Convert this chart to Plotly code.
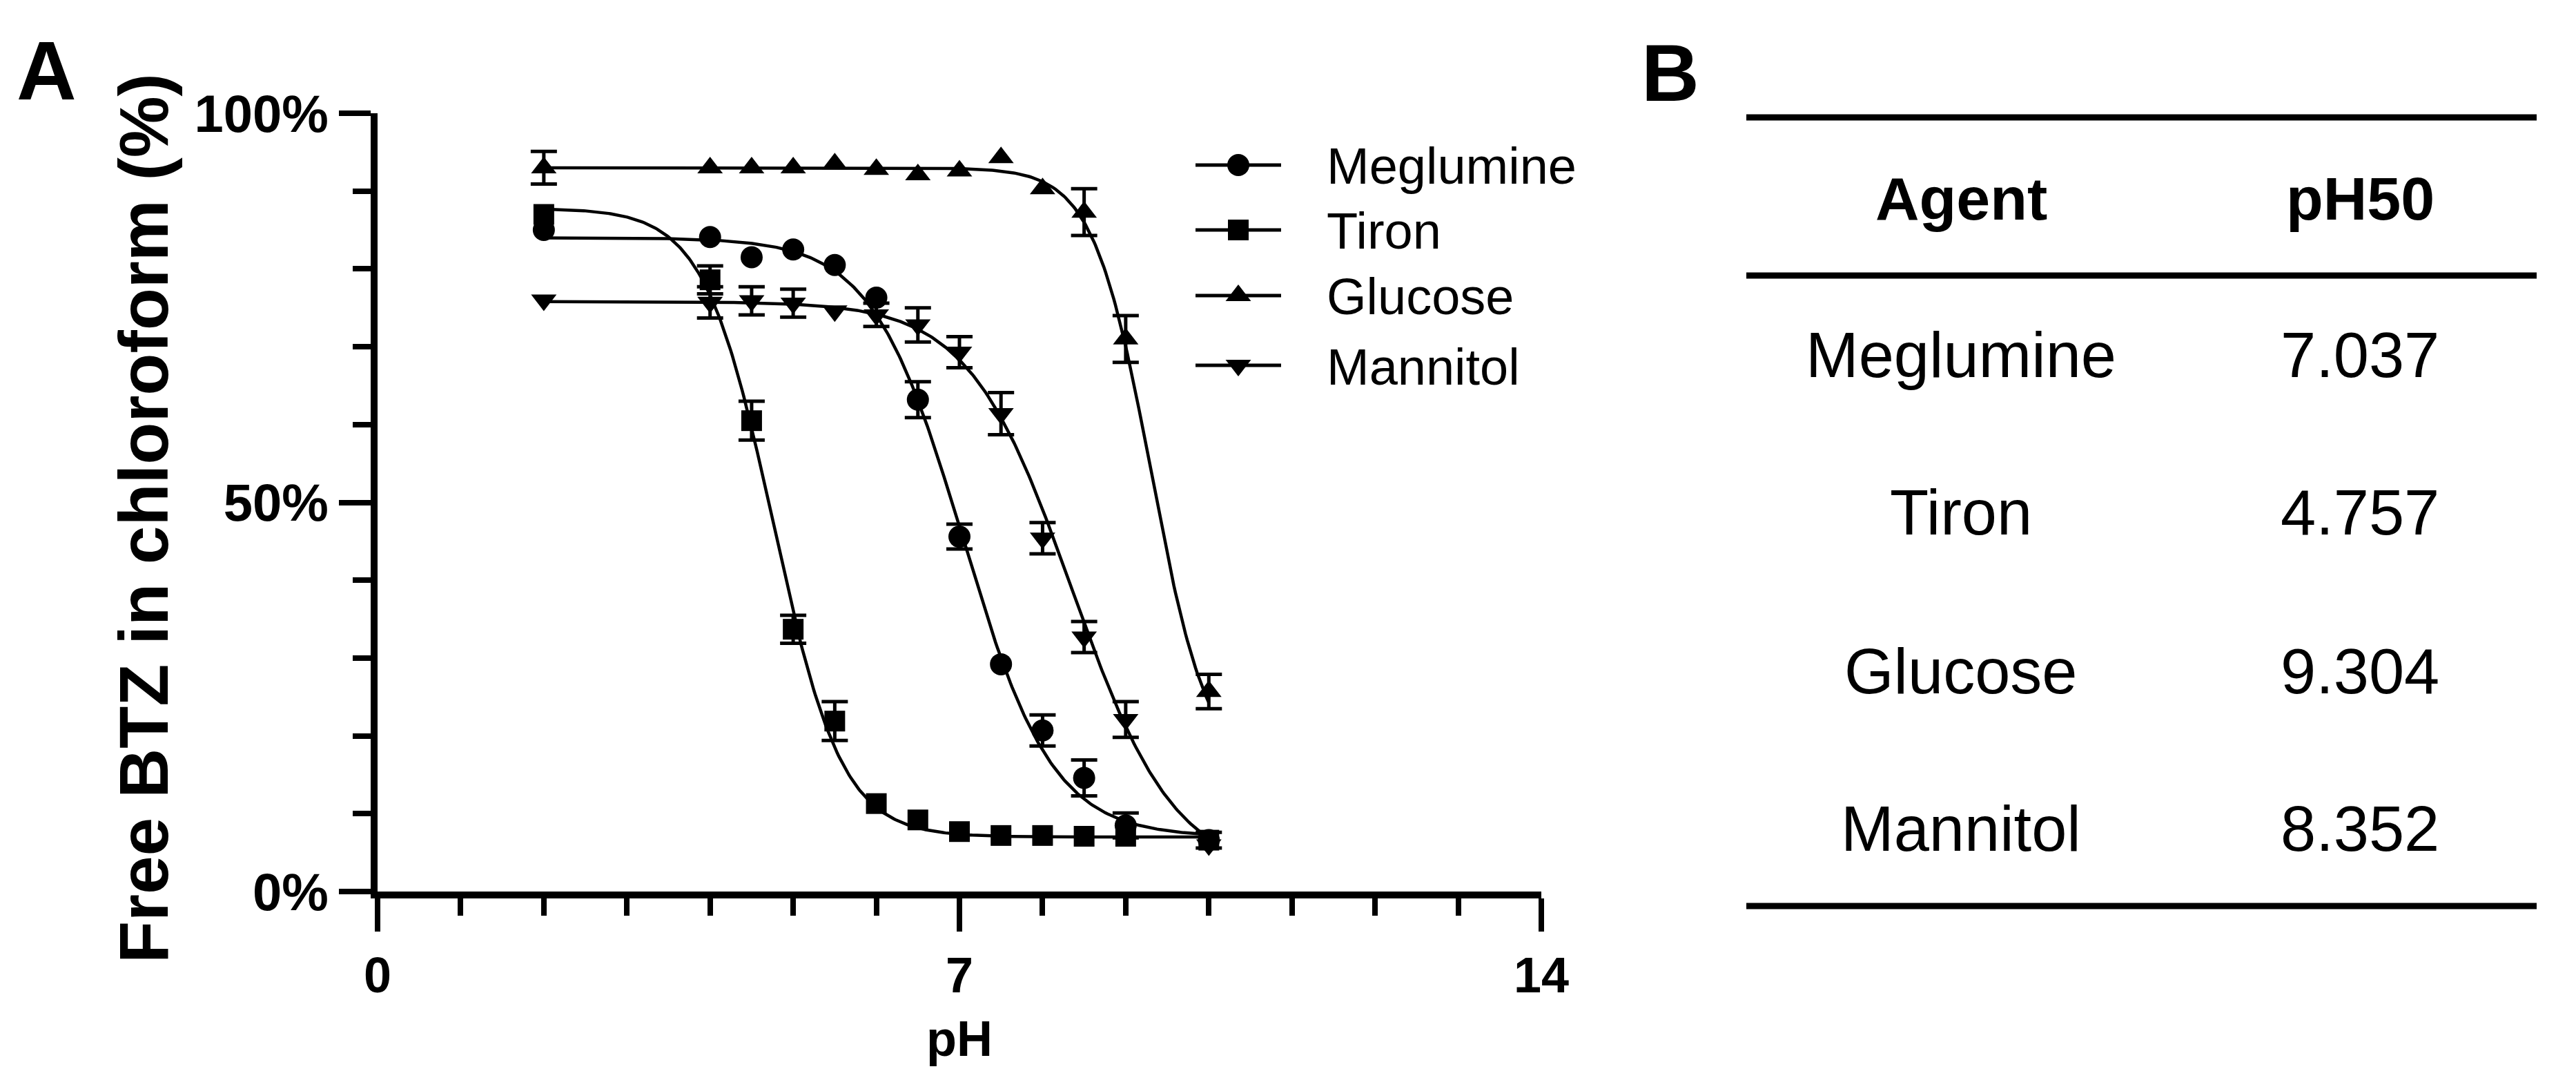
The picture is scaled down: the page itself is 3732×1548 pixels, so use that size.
import numpy as np
import plotly.graph_objects as go

# ---------------- data ----------------
ph = [2, 4, 4.5, 5, 5.5, 6, 6.5, 7, 7.5, 8, 8.5, 9, 10]

agents = ["Meglumine", "Tiron", "Glucose", "Mannitol"]

meglumine = [85.0, 84.1, 81.5, 82.5, 80.5, 76.3, 63.2, 45.6, 29.2, 20.7, 14.6, 8.5, 6.6]
meglumine_sd = [0, 0, 0, 0, 0, 0, 2.3, 1.6, 0, 2.0, 2.3, 1.6, 0]

tiron = [87.0, 78.6, 60.5, 33.7, 21.9, 11.3, 9.2, 7.7, 7.2, 7.2, 7.1, 7.1, 6.6]
tiron_sd = [0, 1.8, 2.5, 1.8, 2.5, 0, 0, 0, 0, 0, 0, 0, 1.0]

glucose = [93.0, 93.0, 93.0, 93.0, 93.5, 92.8, 92.1, 92.6, 94.3, 90.3, 87.3, 71.0, 25.7]
glucose_sd = [2.1, 0, 0, 0, 0, 0, 0, 0, 0, 0, 3.0, 3.0, 2.2]

mannitol = [76.0, 75.7, 75.9, 75.6, 74.6, 74.1, 72.8, 69.3, 61.4, 45.4, 32.7, 22.1, 6.0]
mannitol_sd = [0, 2.0, 1.8, 1.8, 0, 1.5, 2.2, 2.0, 2.7, 2.0, 2.0, 2.3, 0]

# fitted sigmoid parameters (pH50 from table B)
ph50 = [7.037, 4.757, 9.304, 8.352]
ph50_text = ["7.037", "4.757", "9.304", "8.352"]
fit_top = [84.0, 87.8, 93.0, 75.8]
fit_bottom = [7.0, 7.0, 15.0, 2.0]
fit_hill = [0.8, 1.05, 1.25, 0.7]
fit_range = [2, 10]

x_ticks = [0, 7, 14]
y_ticks = [0, 50, 100]
y_ticktext = ["0%", "50%", "100%"]

values = [meglumine, tiron, glucose, mannitol]
sds = [meglumine_sd, tiron_sd, glucose_sd, mannitol_sd]
symbols = ["circle", "square", "triangle-up", "triangle-down"]
msizes = [32, 30, 32, 32]

# ---------------- layout helpers ----------------
W, H = 3732, 1548
FONT = "Liberation Sans, Arial, Helvetica, sans-serif"


def px(x):
    return x / W


def py(y):
    return 1 - y / H


PLOT_L, PLOT_R, PLOT_T, PLOT_B = 539, 2225, 156, 1283

fig = go.Figure()

# fitted curves
for i, name in enumerate(agents):
    xf = np.linspace(fit_range[0], fit_range[1], 400)
    yf = fit_bottom[i] + (fit_top[i] - fit_bottom[i]) / (1 + 10 ** ((xf - ph50[i]) * fit_hill[i]))
    fig.add_trace(go.Scatter(x=xf, y=yf, mode="lines", line=dict(color="black", width=4.5),
                             showlegend=False, hoverinfo="skip", cliponaxis=False))

# error bars (only where larger than the symbol)
for i, name in enumerate(agents):
    xs = [x for x, s in zip(ph, sds[i]) if s > 0]
    ys = [v for v, s in zip(values[i], sds[i]) if s > 0]
    es = [s for s in sds[i] if s > 0]
    fig.add_trace(go.Scatter(x=xs, y=ys, mode="markers",
                             marker=dict(color="rgba(0,0,0,0)", size=2),
                             error_y=dict(type="data", array=es, visible=True, color="black",
                                          thickness=5, width=19),
                             showlegend=False, hoverinfo="skip", cliponaxis=False))

# data symbols
for i, name in enumerate(agents):
    fig.add_trace(go.Scatter(x=ph, y=values[i], mode="markers", name=name,
                             marker=dict(symbol=symbols[i], size=msizes[i], color="black"),
                             showlegend=False, cliponaxis=False))

# legend (drawn manually on an overlay pixel axis)
leg_rows = [231, 325, 420, 521]
leg_x0, leg_x1, leg_mx, leg_tx = 1724, 1848, 1786, 1912
for i, name in enumerate(agents):
    fig.add_shape(type="line", xref="paper", yref="paper",
                  x0=px(leg_x0), x1=px(leg_x1), y0=py(leg_rows[i]), y1=py(leg_rows[i]),
                  line=dict(color="black", width=5))
    fig.add_trace(go.Scatter(x=[leg_mx], y=[leg_rows[i]], xaxis="x2", yaxis="y2", mode="markers",
                             marker=dict(symbol=symbols[i], size=msizes[i], color="black"),
                             showlegend=False, hoverinfo="skip", cliponaxis=False))
    fig.add_annotation(x=px(leg_tx), y=py(leg_rows[i] + 2), xref="paper", yref="paper",
                       text=name, showarrow=False, xanchor="left", yanchor="middle",
                       font=dict(family=FONT, size=74, color="black"))

axis_common = dict(showgrid=False, zeroline=False, showline=True, linecolor="black", linewidth=10,
                   ticks="outside", tickcolor="black", tickwidth=8, automargin=False)

fig.update_layout(
    width=W, height=H,
    margin=dict(l=0, r=0, t=0, b=0, autoexpand=False),
    paper_bgcolor="white", plot_bgcolor="rgba(0,0,0,0)",
    showlegend=False,
    font=dict(family=FONT, color="black"),
    xaxis=dict(domain=[px(PLOT_L), px(PLOT_R)], range=[0, 14], tickvals=x_ticks,
               ticklen=48, ticklabelstandoff=2,
               tickfont=dict(family=FONT, size=72, color="black", weight="bold"),
               minor=dict(dtick=1, ticks="outside", ticklen=25, tickwidth=8, tickcolor="black"),
               anchor="y", **axis_common),
    yaxis=dict(domain=[py(PLOT_B), py(PLOT_T)], range=[0, 100], tickvals=y_ticks, ticktext=y_ticktext,
               ticklen=46, tickfont=dict(family=FONT, size=76, color="black", weight="bold"),
               minor=dict(dtick=10, ticks="outside", ticklen=26, tickwidth=8, tickcolor="black"),
               anchor="x", **axis_common),
    xaxis2=dict(domain=[0, 1], range=[0, W], visible=False, anchor="y2", fixedrange=True, automargin=False),
    yaxis2=dict(domain=[0, 1], range=[H, 0], visible=False, anchor="x2", fixedrange=True, automargin=False),
)

# axis titles
fig.add_annotation(x=px(200), y=py(743), xref="paper", yref="paper", text="Free BTZ in chloroform (%)",
                   textangle=-90, showarrow=False, xanchor="center", yanchor="middle",
                   font=dict(family=FONT, size=100, color="black", weight="bold"))
fig.add_annotation(x=px((PLOT_L + PLOT_R) / 2), y=py(1496), xref="paper", yref="paper", text="pH",
                   showarrow=False, xanchor="center", yanchor="middle",
                   font=dict(family=FONT, size=72, color="black", weight="bold"))

# panel letters
fig.add_annotation(x=px(14), y=py(94), xref="paper", yref="paper", text="A", showarrow=False,
                   xanchor="left", yanchor="middle",
                   font=dict(family=FONT, size=120, color="black", weight="bold"))
fig.add_annotation(x=px(2368), y=py(98), xref="paper", yref="paper", text="B", showarrow=False,
                   xanchor="left", yanchor="middle",
                   font=dict(family=FONT, size=116, color="black", weight="bold"))

# ---------------- table B ----------------
tbl_x0, tbl_x1 = 2522, 3667
col_agent, col_val = 2833, 3411
rules_y = [162, 391, 1304]
for ry in rules_y:
    fig.add_shape(type="line", xref="paper", yref="paper", x0=px(tbl_x0), x1=px(tbl_x1),
                  y0=py(ry), y1=py(ry), line=dict(color="black", width=9))
header_y = 279
fig.add_annotation(x=px(col_agent), y=py(header_y), xref="paper", yref="paper", text="Agent",
                   showarrow=False, xanchor="center", yanchor="middle",
                   font=dict(family=FONT, size=88, color="black", weight="bold"))
fig.add_annotation(x=px(col_val), y=py(header_y), xref="paper", yref="paper", text="pH50",
                   showarrow=False, xanchor="center", yanchor="middle",
                   font=dict(family=FONT, size=88, color="black", weight="bold"))
row_y = [506, 734, 964, 1192]
for i, name in enumerate(agents):
    fig.add_annotation(x=px(col_agent), y=py(row_y[i]), xref="paper", yref="paper", text=name,
                       showarrow=False, xanchor="center", yanchor="middle",
                       font=dict(family=FONT, size=92, color="black"))
    fig.add_annotation(x=px(col_val), y=py(row_y[i]), xref="paper", yref="paper", text=ph50_text[i],
                       showarrow=False, xanchor="center", yanchor="middle",
                       font=dict(family=FONT, size=92, color="black"))

fig.write_html("out.html")
